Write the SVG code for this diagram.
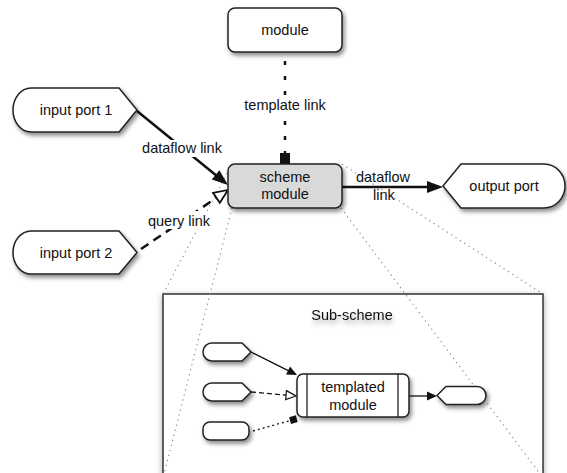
<svg xmlns="http://www.w3.org/2000/svg" width="567" height="473" viewBox="0 0 567 473">
<defs>
<style>
.t{font-family:"Liberation Sans",Arial,Helvetica,sans-serif;font-size:14.5px;fill:#111;text-anchor:middle}
.n{fill:#fff;stroke:#222;stroke-width:1.5}
.g{fill:#d9d9d9;stroke:#222;stroke-width:1.5}
.sh{filter:url(#sh)}
.link{fill:none;stroke:#111;stroke-width:2.5}
.slink{fill:none;stroke:#111;stroke-width:1.3}
.proj{fill:none;stroke:#8a8a8a;stroke-width:1.2;stroke-dasharray:1.2 4}
</style>
<filter id="sh" x="-20%" y="-20%" width="150%" height="170%">
<feDropShadow dx="2" dy="3" stdDeviation="2.2" flood-color="#000" flood-opacity="0.45"/>
</filter>
<filter id="bsh" x="-10%" y="-10%" width="120%" height="120%">
<feDropShadow dx="0" dy="2" stdDeviation="3" flood-color="#000" flood-opacity="0.35"/>
</filter>
<filter id="tsh" x="-20%" y="-50%" width="140%" height="250%">
<feDropShadow dx="1" dy="4" stdDeviation="2.5" flood-color="#000" flood-opacity="0.35"/>
</filter>
<marker id="arrowBig" markerUnits="userSpaceOnUse" orient="auto" overflow="visible" markerWidth="1" markerHeight="1" refX="0" refY="0">
<path d="M-12,-6 L4,0 L-12,6 Z" fill="#111"/>
</marker>
<marker id="openBig" markerUnits="userSpaceOnUse" orient="auto" overflow="visible" markerWidth="1" markerHeight="1" refX="0" refY="0">
<path d="M-10,-6 L4,0 L-10,6 Z" fill="#fff" stroke="#111" stroke-width="1.8"/>
</marker>
<marker id="squareBig" markerUnits="userSpaceOnUse" orient="auto" overflow="visible" markerWidth="1" markerHeight="1" refX="0" refY="0">
<path d="M0,-5 L11,-5 L11,5 L0,5 Z" fill="#111"/>
</marker>
<marker id="arrowSmall" markerUnits="userSpaceOnUse" orient="auto" overflow="visible" markerWidth="1" markerHeight="1" refX="0" refY="0">
<path d="M-8,-4.5 L2,0 L-8,4.5 Z" fill="#111"/>
</marker>
<marker id="openSmall" markerUnits="userSpaceOnUse" orient="auto" overflow="visible" markerWidth="1" markerHeight="1" refX="0" refY="0">
<path d="M-8,-4.5 L2,0 L-8,4.5 Z" fill="#fff" stroke="#111" stroke-width="1.2"/>
</marker>
<marker id="squareSmall" markerUnits="userSpaceOnUse" orient="auto" overflow="visible" markerWidth="1" markerHeight="1" refX="0" refY="0">
<path d="M-1,-3.5 L6,-3.5 L6,3.5 L-1,3.5 Z" fill="#111"/>
</marker>
</defs>
<rect width="567" height="473" fill="#fff"/>

<g id="sub-scheme">
<rect x="163" y="294" width="380" height="190" fill="#fff" stroke="#333" stroke-width="1.5" filter="url(#bsh)"/>
<text class="t" x="352" y="320" filter="url(#tsh)">Sub-scheme</text>
</g>

<g id="projection">
<line class="proj" x1="232" y1="164" x2="163" y2="294"/>
<line class="proj" x1="232" y1="208" x2="163" y2="478"/>
<line class="proj" x1="341" y1="208" x2="543" y2="478"/>
<line class="proj" x1="342" y1="164" x2="543" y2="294"/>
</g>

<g id="connectors">
<line class="link" x1="137" y1="111" x2="224.9" y2="182.5" marker-end="url(#arrowBig)"/>
<line class="link" x1="141" y1="249" x2="224.7" y2="192.2" stroke-dasharray="9 6" marker-end="url(#openBig)"/>
<line class="link" x1="285" y1="61" x2="285" y2="153" stroke-width="3" stroke-dasharray="4 11" marker-end="url(#squareBig)"/>
<line class="link" x1="342" y1="187" x2="439" y2="187" marker-end="url(#arrowBig)"/>
<rect x="140" y="140" width="85" height="17" fill="#fff"/>
<text class="t" x="182" y="153">dataflow link</text>
<rect x="147" y="211" width="64" height="18" fill="#fff"/>
<text class="t" x="179" y="226">query link</text>
<rect x="240" y="96" width="90" height="18" fill="#fff"/>
<text class="t" x="285" y="110">template link</text>
<text class="t" x="383" y="182">dataflow</text>
<text class="t" x="384" y="200">link</text>
<line class="slink" x1="251" y1="352" x2="295.2" y2="374.1" marker-end="url(#arrowSmall)"/>
<line class="slink" x1="251" y1="392" x2="294" y2="395.8" stroke-dasharray="5 3" marker-end="url(#openSmall)"/>
<line class="slink" x1="253" y1="431" x2="291" y2="420.3" stroke-width="1.5" stroke-dasharray="2 3" marker-end="url(#squareSmall)"/>
<line class="slink" x1="409" y1="396" x2="435" y2="396" marker-end="url(#arrowSmall)"/>
</g>

<g id="module">
<rect class="n sh" x="228" y="8" width="114" height="44" rx="7"/>
<text class="t" x="285" y="35">module</text>
</g>
<g id="input-port-1">
<path class="n sh" d="M31,88 H119 L137,110 L119,132 H31 A18,22 0 0 1 13,110 A18,22 0 0 1 31,88 Z"/>
<text class="t" x="76" y="115">input port 1</text>
</g>
<g id="input-port-2">
<path class="n sh" d="M31,231 H119 L137,252.5 L119,274 H31 A18,21.5 0 0 1 13,252.5 A18,21.5 0 0 1 31,231 Z"/>
<text class="t" x="76" y="258">input port 2</text>
</g>
<g id="scheme-module">
<rect class="g sh" x="228" y="164" width="114" height="44" rx="7"/>
<text class="t" x="285" y="182">scheme</text>
<text class="t" x="285" y="199">module</text>
</g>
<g id="output-port">
<path class="n sh" d="M443,186 L461,164 H544 A21,22 0 0 1 565,186 A21,22 0 0 1 544,208 H461 Z"/>
<text class="t" x="504" y="191">output port</text>
</g>

<g id="sub-port-a">
<path class="n sh" d="M212,343 H242 L251,352 L242,361 H212 A9,9 0 0 1 212,343 Z"/>
</g>
<g id="sub-port-b">
<path class="n sh" d="M212,383 H242 L251,392 L242,401 H212 A9,9 0 0 1 212,383 Z"/>
</g>
<g id="sub-port-c">
<rect class="n sh" x="203" y="422" width="46" height="18" rx="7"/>
</g>
<g id="templated-module">
<rect class="n sh" x="297" y="374" width="112" height="43" rx="6"/>
<line x1="307" y1="374" x2="307" y2="417" stroke="#222" stroke-width="1.3"/>
<line x1="398" y1="374" x2="398" y2="417" stroke="#222" stroke-width="1.3"/>
<text class="t" x="353" y="392">templated</text>
<text class="t" x="353" y="410">module</text>
</g>
<g id="sub-output">
<path class="n sh" d="M437,395.5 L446,386.5 H477 A9,9 0 0 1 477,404.5 H446 Z"/>
</g>
</svg>
